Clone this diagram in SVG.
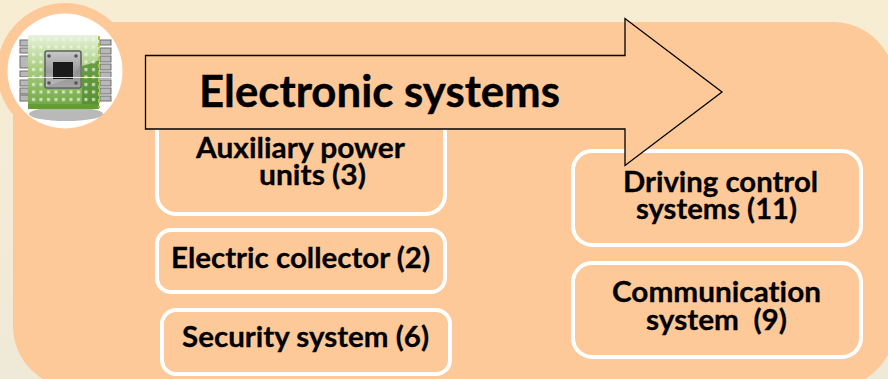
<svg xmlns="http://www.w3.org/2000/svg" width="888" height="379" viewBox="0 0 888 379">
<defs>
<style>
.box{fill:#fec998;stroke:#fff;stroke-width:4}
.t{font-family:Lato,"Open Sans","Liberation Sans",sans-serif;font-weight:700;font-size:29px;fill:#000;stroke:#000;stroke-width:.3;white-space:pre;font-variant-ligatures:none}
.pin{fill:#b8b8b8;stroke:#6f6f6f;stroke-width:1}
</style>
<linearGradient id="bg" x1="0" y1="0" x2="0" y2="1"><stop offset="0" stop-color="#f7edd3"/><stop offset="1" stop-color="#efe9d8"/></linearGradient>
<linearGradient id="pcb" x1="0" y1="0" x2="0" y2="1"><stop offset="0" stop-color="#e8f2de"/><stop offset="0.45" stop-color="#a9ce80"/><stop offset="1" stop-color="#6da543"/></linearGradient>
<linearGradient id="metal" x1="0" y1="0" x2="0" y2="1"><stop offset="0" stop-color="#c9c9c9"/><stop offset="0.55" stop-color="#9c9c9c"/><stop offset="1" stop-color="#c2c2c2"/></linearGradient>
<pattern id="holes" width="7.500" height="7.500" patternUnits="userSpaceOnUse" x="30" y="36"><rect x="2" y="2" width="3" height="3" fill="#eef6e2" opacity=".75"/></pattern>
</defs>
<rect width="888" height="379" fill="url(#bg)"/>
<g id="panel">
<rect x="13" y="22" width="882" height="366" rx="62" fill="#fec998"/>
<circle cx="65" cy="71" r="68" fill="#fec998"/>
</g>
<g id="icon">
<circle cx="65" cy="71" r="57.500" fill="#fff"/>
<ellipse cx="66" cy="114" rx="37" ry="7" fill="#b9b9b9"/>
<g class="pin">
<rect x="20" y="40" width="9" height="6"/><rect x="20" y="48" width="9" height="5"/><rect x="20" y="56" width="9" height="12"/><rect x="20" y="71" width="9" height="6"/><rect x="20" y="80" width="9" height="6"/><rect x="20" y="88" width="9" height="6"/><rect x="20" y="95" width="9" height="6"/>
<rect x="100" y="40" width="11" height="5"/><rect x="100" y="48" width="11" height="6"/><rect x="100" y="56" width="11" height="6"/><rect x="100" y="64" width="11" height="6"/><rect x="100" y="72" width="11" height="6"/><rect x="100" y="80" width="11" height="6"/><rect x="100" y="88" width="11" height="6"/><rect x="100" y="96" width="11" height="5"/>
</g>
<rect x="28" y="35" width="71" height="73" rx="2" fill="url(#pcb)"/>
<path d="M82 66q8-2 10-3l7-3v44H82z" fill="#4f8a2e" opacity=".75"/>
<rect x="28" y="35" width="71" height="73" rx="2" fill="url(#holes)"/>
<path d="M28 104h71v5H28z" fill="#639b3c"/>
<path d="M99 36v72" stroke="#a8c83a" stroke-width="2" stroke-dasharray="4 3"/>
<rect x="45" y="51" width="36" height="37" rx="2" fill="url(#metal)" stroke="#5f5f5f" stroke-width="1.500"/>
<path d="M71 78l10-14v23H47v-1z" fill="#8a8a8a" opacity=".5"/>
<rect x="53" y="62" width="20" height="17" fill="#1a1a1a"/>
<circle cx="49" cy="56" r="1.800" fill="#555"/><circle cx="76" cy="56" r="1.800" fill="#555"/><circle cx="49" cy="83" r="1.800" fill="#555"/><circle cx="76" cy="83" r="1.800" fill="#555"/>
<path d="M8 77.500L122 77.500" stroke="#fff" stroke-width="1" opacity=".8"/>
</g>
<g id="connectors"></g>
<g id="auxiliary"><rect class="box" x="157" y="110" width="288" height="104" rx="19"/>
<text class="t" x="196" y="158" textLength="209" lengthAdjust="spacingAndGlyphs">Auxiliary power</text><text class="t" x="259" y="185" textLength="107" lengthAdjust="spacingAndGlyphs">units (3)</text></g>
<g id="collector"><rect class="box" x="157" y="230" width="288" height="62" rx="14"/>
<text class="t" x="171" y="268" textLength="259" lengthAdjust="spacingAndGlyphs">Electric collector (2)</text></g>
<g id="security"><rect class="box" x="162" y="310" width="288" height="64" rx="14"/>
<text class="t" x="182" y="347" textLength="247" lengthAdjust="spacingAndGlyphs">Security system (6)</text></g>
<g id="driving"><rect class="box" x="573" y="151" width="288" height="94" rx="19"/>
<text class="t" x="623" y="192" textLength="195" lengthAdjust="spacingAndGlyphs">Driving control</text><text class="t" x="636" y="219" textLength="161" lengthAdjust="spacingAndGlyphs">systems (11)</text></g>
<g id="communication"><rect class="box" x="573" y="263" width="288" height="94" rx="19"/>
<text class="t" x="612" y="302" textLength="209" lengthAdjust="spacingAndGlyphs">Communication</text><text class="t" x="646" y="330" textLength="141" lengthAdjust="spacingAndGlyphs">system  (9)</text></g>
<g id="arrow"><path d="M145.500 55.500H625V18.500L722 92L625 165.500V129H145.500Z" fill="#fec998" stroke="#000" stroke-width="1.300"/>
<text class="t" x="199" y="107" textLength="361" lengthAdjust="spacingAndGlyphs" style="font-size:44px;stroke-width:.4">Electronic systems</text></g>
</svg>
